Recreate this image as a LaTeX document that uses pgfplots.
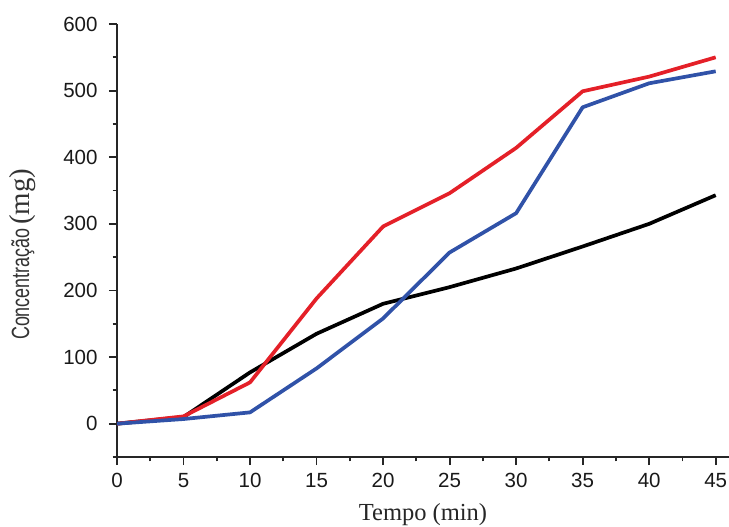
\documentclass[border=0pt]{standalone}
\usepackage{fontspec}
\setmainfont{Liberation Serif}
\setsansfont{Liberation Sans}
\usepackage{pgfplots}
\pgfplotsset{compat=1.18}
\definecolor{cred}{RGB}{228,32,40}
\definecolor{cblue}{RGB}{48,82,168}
\begin{document}
\begin{tikzpicture}
\begin{axis}[
  at={(0,0)}, anchor=south west,
  scale only axis,
  width=306bp, height=216.5bp,
  xmin=0, xmax=46, ymin=-50, ymax=600,
  axis x line*=bottom, axis y line*=left,
  axis line style={line width=1pt, black!85},
  tick align=outside,
  xtick={0,5,...,45}, ytick={0,100,...,600},
  minor xtick={2.5,7.5,...,42.5}, minor ytick={-50,50,150,...,550},
  major tick length=4bp, minor tick length=2.2bp,
  tick style={line width=0.9pt, black!85},
  ticklabel style={font=\sffamily\fontsize{10.3}{12}\selectfont, text=black!90},
  yticklabel style={xshift=-2.2bp},
  xticklabel style={yshift=-0.5bp},
  /pgf/number format/assume math mode=true,
  xlabel={Tempo (min)},
  ylabel={\scalebox{0.72}[1]{\sffamily\fontsize{12.5}{14}\selectfont Concentração}\,{\rmfamily\fontsize{14.5}{16}\selectfont (mg)}},
  xlabel style={font=\rmfamily\fontsize{12.3}{14}\selectfont, text=black!85, at={(axis description cs:0.5,-0.134)}, anchor=center},
  ylabel style={text=black!80, at={(axis description cs:-0.155,0.468)}, anchor=center},
  clip=false,
  every axis plot/.style={line width=1.85bp, line join=round},
]
\addplot[black] coordinates {(0,0) (5,10) (10,77) (15,135) (20,180) (25,205) (30,233) (35,266) (40,300) (45,343)};
\addplot[cred] coordinates {(0,0) (5,11) (10,62) (15,188) (20,296) (25,346) (30,414) (35,499) (40,521) (45,550)};
\addplot[cblue] coordinates {(0,0) (5,7) (10,17) (15,83) (20,158) (25,257) (30,316) (35,475) (40,511) (45,529)};
\end{axis}
\pgfresetboundingbox
\path[use as bounding box] (-58.5bp,-35bp) rectangle (306bp,228.5bp);
\end{tikzpicture}
\end{document}
